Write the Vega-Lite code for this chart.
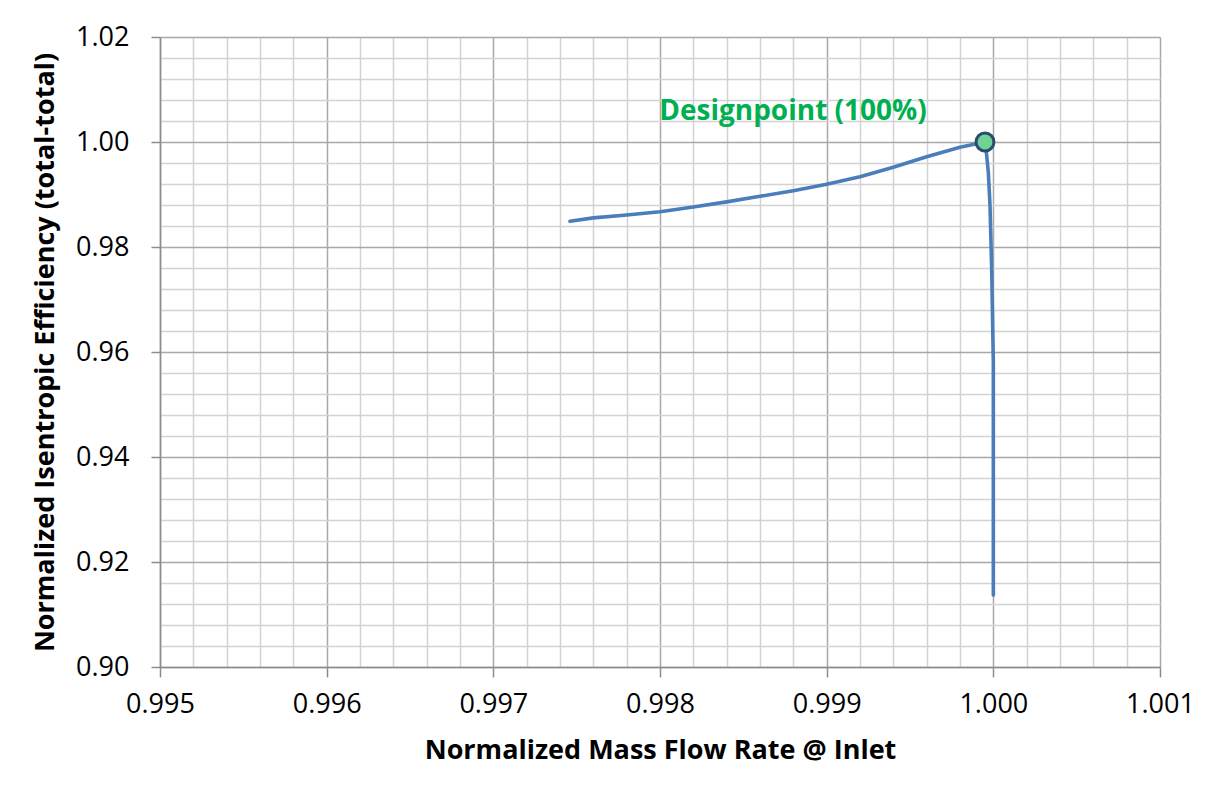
{
  "$schema": "https://vega.github.io/schema/vega-lite/v6.json",
  "autosize": {"type": "none"},
  "width": 1000,
  "height": 630,
  "padding": {"left": 160, "top": 37, "right": 52, "bottom": 120},
  "background": "white",
  "config": {
    "view": {"stroke": null},
    "font": "Open Sans"
  },
  "datasets": {
    "curve": [
      {"seq": 1, "flow": 0.99746, "eff": 0.98490},
      {"seq": 2, "flow": 0.99760, "eff": 0.98555},
      {"seq": 3, "flow": 0.99780, "eff": 0.98610},
      {"seq": 4, "flow": 0.99800, "eff": 0.98673},
      {"seq": 5, "flow": 0.99820, "eff": 0.98762},
      {"seq": 6, "flow": 0.99840, "eff": 0.98860},
      {"seq": 7, "flow": 0.99860, "eff": 0.98965},
      {"seq": 8, "flow": 0.99880, "eff": 0.99073},
      {"seq": 9, "flow": 0.99900, "eff": 0.99194},
      {"seq": 10, "flow": 0.99920, "eff": 0.99340},
      {"seq": 11, "flow": 0.99940, "eff": 0.99518},
      {"seq": 12, "flow": 0.99960, "eff": 0.99720},
      {"seq": 13, "flow": 0.99980, "eff": 0.99900},
      {"seq": 14, "flow": 0.99995, "eff": 1.00000},
      {"seq": 15, "flow": 0.99996, "eff": 0.99750},
      {"seq": 16, "flow": 0.99997, "eff": 0.99420},
      {"seq": 17, "flow": 0.99998, "eff": 0.98800},
      {"seq": 18, "flow": 0.99999, "eff": 0.97600},
      {"seq": 19, "flow": 1.00000, "eff": 0.95800},
      {"seq": 20, "flow": 1.00000, "eff": 0.91370}
    ],
    "design": [
      {"flow": 0.99995, "eff": 1.00000, "label": "Designpoint (100%)"}
    ]
  },
  "encoding": {
    "x": {
      "field": "flow",
      "type": "quantitative",
      "scale": {"domain": [0.995, 1.001], "zero": false, "nice": false},
      "axis": {
        "title": "Normalized Mass Flow Rate @ Inlet",
        "titleFont": "Open Sans",
        "titleFontSize": 27,
        "titleFontWeight": "bold",
        "titleColor": "#000000",
        "titlePadding": 20,
        "values": [0.995, 0.9952, 0.9954, 0.9956, 0.9958, 0.996, 0.9962, 0.9964, 0.9966, 0.9968, 0.997, 0.9972, 0.9974, 0.9976, 0.9978, 0.998, 0.9982, 0.9984, 0.9986, 0.9988, 0.999, 0.9992, 0.9994, 0.9996, 0.9998, 1.0, 1.0002, 1.0004, 1.0006, 1.0008, 1.001],
        "format": ".3f",
        "labelExpr": "abs(round(datum.value*1000) - datum.value*1000) < 1e-6 ? datum.label : ''",
        "labelOverlap": false,
        "labelFlush": false,
        "labelFontSize": 27,
        "labelColor": "#000000",
        "labelPadding": 14,
        "grid": true,
        "gridColor": {"condition": {"test": "abs(round(datum.value*1000) - datum.value*1000) < 1e-6", "value": "#a8a8a8"}, "value": "#d3d3d3"},
        "gridWidth": 1.5,
        "ticks": true,
        "tickSize": 10,
        "tickColor": "#8c8c8c",
        "tickWidth": 1.5,
        "tickOpacity": {"condition": {"test": "abs(round(datum.value*1000) - datum.value*1000) < 1e-6", "value": 1}, "value": 0},
        "domainColor": "#8c8c8c",
        "domainWidth": 1.5
      }
    },
    "y": {
      "field": "eff",
      "type": "quantitative",
      "scale": {"domain": [0.9, 1.02], "zero": false, "nice": false},
      "axis": {
        "title": "Normalized Isentropic Efficiency (total-total)",
        "titleFont": "Open Sans",
        "titleFontSize": 27,
        "titleFontWeight": "bold",
        "titleColor": "#000000",
        "titlePadding": 16,
        "values": [0.9, 0.904, 0.908, 0.912, 0.916, 0.92, 0.924, 0.928, 0.932, 0.936, 0.94, 0.944, 0.948, 0.952, 0.956, 0.96, 0.964, 0.968, 0.972, 0.976, 0.98, 0.984, 0.988, 0.992, 0.996, 1.0, 1.004, 1.008, 1.012, 1.016, 1.02],
        "format": ".2f",
        "labelExpr": "abs(round(datum.value*50) - datum.value*50) < 1e-6 ? datum.label : ''",
        "labelOverlap": false,
        "labelFlush": false,
        "labelFontSize": 27,
        "labelColor": "#000000",
        "labelPadding": 22,
        "grid": true,
        "gridColor": {"condition": {"test": "abs(round(datum.value*50) - datum.value*50) < 1e-6", "value": "#a8a8a8"}, "value": "#d3d3d3"},
        "gridWidth": 1.5,
        "ticks": true,
        "tickSize": 9,
        "tickColor": "#8c8c8c",
        "tickWidth": 1.5,
        "tickOpacity": {"condition": {"test": "abs(round(datum.value*50) - datum.value*50) < 1e-6", "value": 1}, "value": 0},
        "domainColor": "#8c8c8c",
        "domainWidth": 1.5
      }
    }
  },
  "layer": [
    {
      "data": {"name": "curve"},
      "mark": {"type": "line", "color": "#4a7ebb", "strokeWidth": 3.6, "strokeJoin": "round", "strokeCap": "round"},
      "encoding": {
        "order": {"field": "seq", "type": "quantitative"}
      }
    },
    {
      "data": {"name": "design"},
      "mark": {"type": "point", "filled": false, "fill": "#72d196", "fillOpacity": 1, "stroke": "#2a4d6e", "strokeWidth": 3, "size": 320, "opacity": 1}
    },
    {
      "data": {"name": "design"},
      "mark": {"type": "text", "color": "#00b050", "font": "Open Sans", "fontSize": 28, "fontWeight": "bold", "align": "center", "baseline": "alphabetic", "dx": -192, "dy": -22},
      "encoding": {
        "text": {"field": "label", "type": "nominal"}
      }
    }
  ]
}
